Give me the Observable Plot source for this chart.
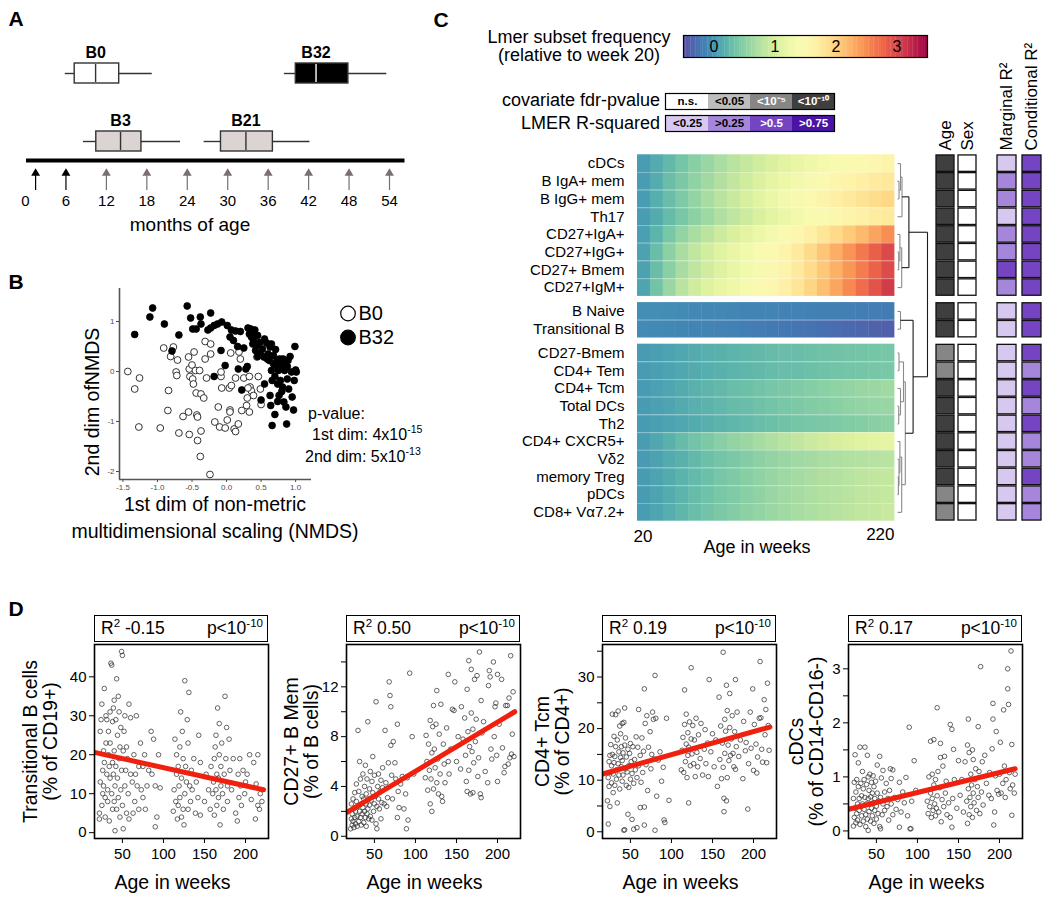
<!DOCTYPE html>
<html><head><meta charset="utf-8">
<script src="https://cdn.jsdelivr.net/npm/d3@7"></script>
<script src="https://cdn.jsdelivr.net/npm/@observablehq/plot@0.6"></script>
<style>
body{margin:0;background:#fff;}
#root{position:relative;width:1050px;height:900px;overflow:hidden;background:#fff;font-family:"Liberation Sans",Arial,Helvetica,sans-serif;}
sup{font-size:0.66em;line-height:0;vertical-align:0.6em;}
</style></head>
<body><div id="root"></div>
<script>
// ---------------- DATA ----------------
// Panel A: cohort sampling ages (months)
const cohortNames = ["B0", "B32", "B3", "B21"];
const cohortRow = ["upper", "upper", "lower", "lower"];
const cohortMin = [5.9, 38.4, 8.6, 26.5];
const cohortQ1 = [7.3, 40.1, 10.5, 29.0];
const cohortMedian = [10.4, 43.1, 14.1, 32.7];
const cohortQ3 = [13.9, 47.9, 17.2, 36.7];
const cohortMax = [18.8, 53.6, 23.0, 42.2];
const monthTicks = [0, 6, 12, 18, 24, 30, 36, 42, 48, 54];
const visitMonths = [1.5, 6, 12, 18, 24, 30, 36, 42, 48, 54];
const timelineMonths = [0.15, 56.3];

// Panel B: NMDS coordinates
const nmdsXTicks = [-1.5, -1, -0.5, 0, 0.5, 1];
const nmdsYTicks = [-2, -1, 0, 1];
const nmdsGroups = ["B0", "B32"];
const nmdsB0 = [[-1.43,0.00],[-1.33,-0.35],[-1.26,-0.13],[-1.27,-1.11],[-0.96,-1.13],[-0.91,0.47],[-0.85,-0.78],[-0.84,-0.38],[-0.81,0.30],[-0.77,0.49],[-0.73,-0.01],[-0.72,-0.08],[-0.71,0.23],[-0.69,-1.23],[-0.63,-0.90],[-0.55,-0.81],[-0.55,0.29],[-0.54,-1.26],[-0.54,0.05],[-0.53,-0.10],[-0.50,0.13],[-0.49,-0.15],[-0.48,-0.25],[-0.47,0.39],[-0.45,0.02],[-0.44,-0.43],[-0.43,-0.87],[-0.42,-0.91],[-0.42,-1.38],[-0.39,0.02],[-0.38,-1.70],[-0.37,-0.45],[-0.37,-1.19],[-0.33,-0.53],[-0.31,0.60],[-0.31,0.25],[-0.29,-0.13],[-0.23,0.35],[-0.23,0.55],[-0.24,-2.06],[-0.17,-1.01],[-0.12,-0.71],[-0.10,-1.11],[-0.08,-0.10],[-0.08,-0.01],[-0.07,-0.33],[-0.02,-1.13],[0.01,-0.97],[0.04,-0.33],[0.05,-0.77],[0.05,-0.81],[0.06,0.37],[0.07,-0.28],[0.11,-1.15],[0.13,-1.20],[0.17,-1.05],[0.18,0.39],[0.13,-0.13],[0.20,0.25],[0.22,-0.78],[0.25,-0.13],[0.29,-0.68],[0.30,-0.53],[0.33,-0.10],[0.33,-0.81],[0.34,-0.31],[0.36,-0.39],[0.39,-0.48],[0.46,-0.10],[0.49,-0.35],[0.50,-0.66],[0.44,0.29],[0.31,-0.33]];
const nmdsB32 = [[-1.33,0.74],[-1.11,1.09],[-1.07,1.27],[-0.90,0.95],[-0.79,0.41],[-0.69,0.73],[-0.57,1.31],[-0.52,1.07],[-0.49,0.85],[-0.44,0.85],[-0.38,1.09],[-0.37,0.95],[-0.23,1.17],[-0.27,0.83],[-0.23,0.87],[-0.18,0.92],[-0.13,0.95],[-0.07,0.99],[-0.18,-0.10],[-0.08,0.42],[-0.02,0.12],[0.01,0.92],[0.05,0.69],[0.07,0.83],[0.10,0.62],[0.13,0.81],[0.16,0.50],[0.17,0.05],[0.20,0.80],[0.22,-0.37],[0.25,0.47],[0.28,0.05],[0.31,0.87],[0.33,0.75],[0.36,0.69],[0.39,0.62],[0.41,0.83],[0.38,0.55],[0.42,0.42],[0.45,0.72],[0.46,0.54],[0.49,0.35],[0.50,-0.57],[0.54,0.29],[0.55,0.65],[0.58,0.57],[0.59,0.25],[0.62,0.22],[0.63,0.49],[0.63,-0.48],[0.64,-0.68],[0.65,0.02],[0.66,-1.08],[0.66,-0.18],[0.68,0.15],[0.70,-0.86],[0.71,0.44],[0.73,0.22],[0.74,-0.25],[0.75,0.02],[0.76,-0.48],[0.77,0.25],[0.78,-0.18],[0.80,0.12],[0.81,-0.31],[0.82,0.25],[0.83,-0.61],[0.84,0.02],[0.86,-0.71],[0.87,-1.05],[0.88,-0.15],[0.89,0.22],[0.92,0.30],[0.94,-0.01],[0.95,-0.51],[0.97,-0.77],[0.98,-0.18],[0.99,0.50],[1.00,0.03],[1.01,-0.01],[0.35,0.85],[0.40,0.72],[0.48,0.58],[0.52,0.45],[0.60,0.35],[0.68,0.32],[0.72,0.12],[0.78,0.05],[0.85,0.18],[0.70,-0.10],[0.80,-0.40],[0.90,-0.35],[0.74,-0.60],[0.30,0.10],[0.55,-0.25],[0.45,0.30],[0.65,0.55],[0.88,0.10]];

// Panel C: heatmap
const cellTypes = ["cDCs","B IgA+ mem","B IgG+ mem","Th17","CD27+IgA+","CD27+IgG+","CD27+ Bmem","CD27+IgM+","B Naive","Transitional B","CD27-Bmem","CD4+ Tem","CD4+ Tcm","Total DCs","Th2","CD4+ CXCR5+","Vδ2","memory Treg","pDCs","CD8+ Vα7.2+"];
const cellCluster = [0,0,0,0,0,0,0,0,1,1,2,2,2,2,2,2,2,2,2,2];
const weekEdges = [20,30,40,50,60,70,80,90,100,110,120,130,140,150,160,170,180,190,200,210,220];
const heatValues = [
 [0.04,0.14,0.26,0.38,0.50,0.60,0.70,0.80,0.88,0.96,1.04,1.12,1.20,1.27,1.34,1.40,1.46,1.51,1.56,1.60],
 [0.04,0.16,0.30,0.42,0.54,0.65,0.76,0.86,0.96,1.06,1.15,1.24,1.33,1.42,1.50,1.57,1.63,1.69,1.74,1.78],
 [0.04,0.17,0.31,0.44,0.57,0.69,0.80,0.91,1.02,1.12,1.22,1.32,1.42,1.52,1.61,1.69,1.77,1.84,1.90,1.95],
 [0.04,0.15,0.28,0.40,0.52,0.63,0.74,0.84,0.94,1.04,1.13,1.22,1.31,1.40,1.48,1.55,1.61,1.67,1.72,1.76],
 [0.06,0.22,0.40,0.56,0.70,0.82,0.94,1.04,1.14,1.24,1.34,1.45,1.56,1.68,1.80,1.93,2.06,2.20,2.35,2.50],
 [0.08,0.30,0.52,0.70,0.85,0.98,1.10,1.20,1.30,1.40,1.50,1.62,1.76,1.92,2.10,2.28,2.46,2.64,2.82,3.00],
 [0.08,0.30,0.51,0.69,0.84,0.97,1.09,1.19,1.29,1.39,1.49,1.61,1.75,1.91,2.08,2.26,2.44,2.62,2.80,2.98],
 [0.10,0.36,0.60,0.80,0.96,1.08,1.18,1.27,1.36,1.45,1.55,1.67,1.81,1.97,2.15,2.34,2.53,2.72,2.92,3.10],
 [-0.05,-0.06,-0.07,-0.08,-0.09,-0.10,-0.10,-0.11,-0.12,-0.12,-0.13,-0.14,-0.14,-0.15,-0.16,-0.16,-0.17,-0.18,-0.18,-0.19],
 [-0.08,-0.09,-0.10,-0.11,-0.12,-0.13,-0.14,-0.15,-0.17,-0.18,-0.20,-0.21,-0.23,-0.25,-0.27,-0.29,-0.31,-0.33,-0.36,-0.38],
 [0.03,0.06,0.09,0.12,0.15,0.18,0.20,0.22,0.24,0.26,0.28,0.30,0.31,0.33,0.34,0.35,0.36,0.37,0.38,0.39],
 [0.03,0.06,0.09,0.12,0.15,0.17,0.20,0.22,0.24,0.26,0.28,0.30,0.31,0.33,0.34,0.36,0.37,0.38,0.39,0.40],
 [0.03,0.07,0.11,0.15,0.19,0.23,0.26,0.30,0.33,0.36,0.39,0.42,0.45,0.48,0.51,0.54,0.57,0.60,0.62,0.65],
 [0.03,0.07,0.10,0.14,0.18,0.21,0.25,0.28,0.31,0.34,0.37,0.40,0.43,0.46,0.48,0.51,0.54,0.56,0.58,0.60],
 [0.03,0.06,0.09,0.12,0.15,0.18,0.21,0.24,0.27,0.30,0.33,0.35,0.38,0.40,0.42,0.44,0.46,0.48,0.50,0.52],
 [0.04,0.12,0.20,0.28,0.36,0.43,0.50,0.56,0.62,0.68,0.74,0.80,0.86,0.92,0.97,1.02,1.06,1.10,1.13,1.16],
 [0.03,0.08,0.14,0.20,0.26,0.32,0.37,0.42,0.47,0.52,0.56,0.60,0.64,0.67,0.70,0.73,0.75,0.77,0.79,0.80],
 [0.03,0.09,0.15,0.21,0.27,0.33,0.39,0.44,0.49,0.54,0.59,0.63,0.67,0.71,0.74,0.77,0.80,0.83,0.85,0.87],
 [0.03,0.09,0.16,0.22,0.28,0.34,0.40,0.45,0.50,0.55,0.60,0.64,0.68,0.72,0.75,0.78,0.81,0.84,0.86,0.88],
 [0.04,0.10,0.17,0.24,0.30,0.36,0.42,0.47,0.52,0.57,0.61,0.65,0.69,0.72,0.76,0.79,0.82,0.85,0.87,0.90]
];
const colorbarTicks = [0, 1, 2, 3];
// dendrogram: [height, left, right], leaves are row indices
const dendroTree = [1.0,
  [0.38, [0.15, [0.10, 0, [0.05, 1, 2]], 3], [0.14, [0.08, 4, [0.04, 5, 6]], 7]],
  [0.52, [0.10, 8, 9],
    [0.26, [0.20, [0.05, 10, 11], [0.10, 12, [0.04, 13, 14]]],
           [0.14, [0.08, 15, [0.05, 16, [0.03, 17, 18]]], 19]]]];
const fdrLevels = ["n.s.", "<0.05", "<10⁻⁵", "<10⁻¹⁰"];
const r2Levels = ["<0.25", ">0.25", ">0.5", ">0.75"];
const ageSig = ["<10⁻¹⁰","<10⁻¹⁰","<10⁻¹⁰","<10⁻¹⁰","<10⁻¹⁰","<10⁻¹⁰","<10⁻¹⁰","<10⁻¹⁰","<10⁻¹⁰","<10⁻¹⁰","<10⁻⁵","<10⁻⁵","<10⁻¹⁰","<10⁻¹⁰","<10⁻¹⁰","<10⁻¹⁰","<10⁻¹⁰","<10⁻¹⁰","<10⁻⁵","<10⁻⁵"];
const sexSig = ["n.s.","n.s.","n.s.","n.s.","n.s.","n.s.","n.s.","n.s.","n.s.","n.s.","n.s.","n.s.","n.s.","n.s.","n.s.","n.s.","n.s.","n.s.","n.s.","n.s."];
const marginalR2 = ["<0.25",">0.25",">0.25","<0.25",">0.25",">0.25",">0.5",">0.25","<0.25","<0.25","<0.25","<0.25","<0.25","<0.25","<0.25","<0.25","<0.25","<0.25","<0.25","<0.25"];
const conditionalR2 = [">0.5",">0.5",">0.5",">0.5",">0.5",">0.5",">0.5",">0.5",">0.5",">0.5",">0.5",">0.25",">0.5",">0.25",">0.5",">0.25",">0.25",">0.5",">0.25",">0.25"];

// Panel D: per-sample frequencies [age in weeks, value]
const weekTicks = [50, 100, 150, 200];
const r2Text = ["-0.15", "0.50", "0.19", "0.17"];
const transB = [[22,3.5],[22,5],[23,13],[23,26],[24,29],[25,33],[25,7],[26,10],[26,16],[27,12],[27,21],[28,37],[28,18],[29,4],[29,9],[30,23],[30,30],[31,15],[31,29],[32,8],[32,11],[33,20],[33,26],[34,17],[34,3],[35,31],[35,14],[35,23],[36,43.5],[37,43],[37,10],[38,6],[38,18],[38,28.5],[39,15],[39,32],[40,8],[40,21],[40,34],[41,0.5],[41,12],[42,29],[42,17],[43,39.5],[43,6],[44,25],[44,14],[45,35],[45,9],[46,19],[46,31],[47,4],[47,22],[48,11],[48,27],[49,16],[49,46.5],[50,45.5],[50,7],[51,1],[51,21],[52,26],[53,12],[53,30],[54,16],[55,5],[55,22],[56,19],[57,10],[58,33],[58,3.5],[60,15],[60,29.5],[62,13],[63,5],[64,20],[65,8],[66,15],[67,30],[68,12],[70,6],[70,17],[72,23],[73,11],[75,9],[75,17],[77,20],[78,6],[80,12],[82,16],[85,26],[86,15],[88,24],[90,1.5],[90,12],[92,4],[94,20],[96,11.5],[112,5.5],[113,11],[114,24],[115,8],[116,20],[116,15],[117,3.5],[118,17],[118,7],[119,12],[120,22],[120,9],[121,31],[122,4],[122,14],[123,26],[124,6],[124,19],[125,2],[126,10],[126,39],[127,17],[128,13],[129,29],[130,6],[130,23],[131,36],[132,12],[133,8],[134,16],[135,11],[137,19],[139,5],[140,13],[142,9],[143,25],[145,4.5],[145,18],[150,8],[152,15],[155,11],[157,6],[158,17],[160,10],[161,13],[162,4.5],[162,19],[163,22],[164,11],[164,25],[165,15],[165,7],[166,32],[167,14],[167,9],[168,20],[168,28],[169,2],[170,12],[170,17],[171,23],[172,10],[173,6],[174,15],[175,35],[176,19],[177,27],[178,12],[178,8],[180,24],[181,16],[183,11],[185,19],[188,5],[190,3],[191,15],[192,9],[193,19],[194,12],[195,7],[197,16],[199,10],[200,13],[202,15],[205,20],[207,8.5],[210,18],[212,3.5],[213,12.5],[215,7],[215,20],[217,6],[218,10],[220,8]];
const cd27Mem = [[21,0.6],[22,1.4],[22,2.6],[23,0.9],[23,1.8],[24,3.0],[24,1.2],[25,2.2],[25,0.7],[26,1.5],[26,3.5],[27,2.0],[27,1.0],[28,2.8],[28,4.2],[29,1.6],[29,0.8],[30,2.4],[30,8.5],[31,1.2],[31,3.6],[32,6.0],[32,2.0],[33,1.5],[33,4.6],[34,2.6],[34,0.9],[35,3.2],[35,1.8],[36,5.0],[36,2.3],[37,1.1],[37,3.0],[38,4.0],[38,2.0],[39,1.5],[39,5.7],[40,2.6],[40,3.4],[40,0.8],[41,1.8],[41,4.6],[42,2.2],[42,9.2],[43,3.0],[43,1.4],[44,3.8],[44,2.5],[45,5.2],[45,1.6],[46,2.9],[47,4.4],[47,1.3],[48,3.5],[48,6.4],[49,2.0],[50,2.6],[50,4.9],[51,3.2],[52,1.0],[52,10.8],[53,0.6],[53,2.4],[54,4.0],[55,3.0],[55,5.0],[56,2.2],[57,3.6],[58,1.4],[58,4.5],[59,2.7],[60,3.9],[60,5.5],[62,2.6],[63,8.5],[64,4.3],[65,2.4],[66,3.1],[67,5.9],[68,12.4],[69,11.3],[70,10.4],[70,7.3],[71,4.9],[72,3.0],[73,7.6],[75,5.9],[76,4.6],[78,9.0],[78,1.5],[79,3.6],[80,2.3],[82,4.2],[84,4.8],[86,2.2],[88,3.4],[89,0.6],[90,4.7],[91,1.3],[93,13.1],[96,8.0],[98,5.0],[112,4.7],[113,8.1],[114,6.0],[115,3.7],[116,7.4],[117,5.3],[118,9.3],[118,2.6],[119,4.6],[120,6.7],[120,2.0],[121,8.8],[122,3.8],[122,10.5],[123,7.0],[124,5.5],[125,9.0],[126,11.7],[126,4.3],[127,6.2],[128,3.4],[129,8.2],[130,5.0],[131,10.6],[132,3.2],[133,2.8],[134,7.4],[135,5.8],[136,4.3],[138,8.7],[140,13.0],[140,6.0],[141,5.0],[143,7.0],[145,10.2],[147,10.1],[148,12.4],[150,6.0],[152,8.0],[155,5.4],[156,10.4],[158,7.8],[160,9.5],[161,6.5],[162,4.4],[163,11.8],[163,3.6],[164,8.4],[165,14.1],[165,5.3],[166,7.2],[167,3.4],[168,9.9],[168,13.4],[169,6.8],[170,3.5],[170,8.6],[171,5.9],[172,12.6],[173,7.6],[174,9.4],[175,12.9],[176,4.8],[177,6.3],[178,14.8],[179,3.4],[180,10.9],[180,3.1],[181,8.3],[183,9.2],[185,5.2],[188,4.3],[189,12.1],[190,13.3],[191,12.8],[192,7.0],[193,6.2],[195,14.0],[196,8.0],[197,10.4],[198,10.7],[199,6.5],[200,13.0],[200,4.4],[202,9.0],[205,12.6],[206,7.1],[208,5.1],[209,5.6],[210,10.5],[212,10.5],[213,5.8],[214,11.1],[215,6.3],[216,14.5],[217,6.6],[218,8.2],[219,11.6],[220,6.4]];
const cd4Tcm = [[22,6.0],[23,1.5],[23,10.5],[24,13.6],[24,8.8],[25,4.9],[25,14.8],[26,11.5],[26,16.9],[27,9.5],[27,12.8],[28,15.0],[28,22.8],[29,7.6],[29,11.2],[30,18.5],[30,13.4],[31,9.0],[31,14.6],[32,22.7],[32,16.5],[33,12.0],[33,10.2],[34,17.8],[34,5.6],[35,13.2],[35,23.4],[36,15.5],[36,11.0],[37,20.5],[37,8.3],[38,19.0],[38,14.4],[39,12.6],[39,16.5],[40,21.0],[40,9.8],[40,13.8],[41,15.3],[41,11.0],[42,0.3],[42,21.2],[43,24.0],[43,0.4],[43,16.8],[44,12.2],[44,18.2],[45,9.0],[45,14.5],[46,11.6],[47,3.4],[47,16.0],[48,12.8],[48,8.6],[49,15.2],[50,10.2],[50,17.1],[51,13.6],[52,2.4],[52,11.3],[53,16.5],[54,0.5],[54,9.4],[55,14.0],[56,12.0],[57,18.4],[58,0.8],[58,10.5],[59,16.4],[60,23.7],[60,12.8],[62,4.7],[62,14.8],[63,9.6],[64,18.2],[65,11.5],[66,15.6],[67,27.7],[67,4.8],[67,1.3],[68,21.0],[69,13.0],[70,22.5],[71,8.0],[72,16.4],[74,19.4],[75,12.2],[76,15.0],[77,23.2],[78,21.8],[79,14.1],[80,30.3],[80,0.3],[81,22.0],[82,6.9],[84,13.9],[86,15.5],[88,9.8],[90,12.5],[91,2.3],[92,1.8],[94,22.0],[97,6.1],[112,12.0],[113,15.8],[114,18.3],[115,11.5],[116,27.5],[116,20.8],[117,13.6],[118,17.0],[118,22.8],[119,10.5],[120,14.8],[120,19.2],[121,5.6],[121,16.4],[122,21.3],[123,12.8],[124,31.8],[124,18.0],[125,15.1],[126,20.6],[127,13.2],[128,17.8],[129,10.7],[130,22.0],[131,15.4],[132,12.6],[133,18.8],[135,14.2],[136,21.0],[138,11.0],[140,16.0],[141,19.8],[142,13.2],[144,17.2],[145,10.7],[146,29.5],[148,15.5],[150,19.0],[152,12.6],[154,17.8],[156,8.8],[158,26.1],[159,14.0],[160,20.5],[161,10.3],[162,17.2],[163,34.8],[163,12.5],[164,3.9],[164,6.5],[165,21.8],[165,15.2],[166,19.5],[167,28.4],[167,6.0],[168,10.5],[168,23.5],[169,16.8],[170,13.8],[171,26.8],[171,20.2],[172,14.8],[173,18.0],[174,22.5],[175,15.2],[176,12.6],[177,19.4],[178,29.5],[178,12.1],[179,16.5],[180,23.2],[182,14.6],[184,17.8],[187,10.3],[188,21.4],[190,15.7],[191,17.3],[193,4.4],[194,13.2],[196,23.2],[197,16.2],[199,27.7],[200,11.9],[201,20.8],[203,17.0],[204,11.4],[205,14.5],[207,22.0],[208,33.0],[209,22.1],[210,16.0],[211,13.5],[213,25.6],[214,18.8],[215,23.7],[216,13.4],[217,28.8],[218,20.6],[219,15.8]];
const cdcs = [[22,0.09],[22,0.6],[23,0.25],[23,0.9],[24,1.41],[24,0.42],[25,0.15],[25,0.72],[26,0.32],[26,0.95],[27,0.5],[27,0.2],[28,0.82],[28,1.26],[29,0.38],[29,0.6],[30,0.12],[30,1.55],[31,0.45],[31,0.88],[32,0.28],[32,0.65],[33,1.1],[33,0.5],[34,0.18],[34,0.78],[35,0.4],[35,0.95],[36,0.62],[36,1.55],[37,0.3],[37,0.08],[38,0.5],[38,0.86],[39,1.4],[39,0.22],[40,0.6],[40,0.01],[40,1.0],[41,0.36],[41,0.75],[42,0.5],[42,1.05],[43,0.18],[43,0.63],[44,0.9],[44,0.42],[45,0.28],[45,0.7],[46,0.52],[46,1.02],[47,0.14],[47,0.82],[48,0.38],[48,0.6],[49,0.92],[50,0.46],[50,0.22],[51,1.22],[51,0.7],[52,0.32],[53,0.55],[54,1.38],[54,0.08],[55,0.04],[55,0.62],[56,0.98],[57,0.3],[58,1.12],[58,0.5],[60,0.72],[60,0.38],[62,0.88],[63,0.45],[64,0.6],[65,0.2],[66,0.75],[67,1.15],[68,0.97],[68,0.5],[70,1.13],[70,0.3],[72,0.62],[74,0.4],[76,0.58],[78,0.07],[78,0.9],[80,0.35],[82,0.72],[84,0.52],[86,0.99],[88,0.28],[90,1.92],[91,0.04],[92,0.04],[93,0.55],[96,1.3],[98,0.75],[112,0.55],[113,0.32],[114,1.0],[115,0.45],[116,1.66],[116,0.7],[117,0.25],[118,0.6],[118,1.05],[119,0.38],[120,1.69],[120,0.85],[121,0.5],[122,0.28],[122,0.95],[123,0.42],[124,2.28],[124,0.65],[125,1.1],[126,0.35],[127,0.8],[128,1.62],[128,1.36],[129,0.17],[130,0.58],[131,1.2],[132,0.45],[133,1.38],[134,0.7],[135,0.92],[136,0.3],[138,0.52],[140,1.97],[140,0.25],[142,1.88],[142,0.07],[143,0.6],[144,1.51],[145,0.95],[148,0.42],[150,1.3],[152,0.66],[154,0.95],[156,0.35],[158,1.28],[160,0.55],[161,1.59],[161,0.14],[162,2.07],[162,0.78],[163,1.45],[163,0.3],[164,0.62],[165,1.05],[165,0.45],[166,0.85],[167,1.5],[167,0.25],[168,0.7],[168,1.32],[169,0.52],[170,0.95],[171,1.15],[172,0.38],[173,0.82],[174,1.93],[174,0.62],[175,1.1],[176,0.32],[177,3.04],[178,0.72],[179,1.28],[180,0.48],[182,1.4],[184,0.88],[187,0.66],[188,1.08],[190,0.6],[191,1.52],[192,2.36],[192,2.07],[193,0.11],[194,0.35],[195,1.02],[196,1.84],[197,0.75],[199,0.68],[200,1.05],[201,1.64],[202,0.7],[204,0.88],[205,2.24],[206,1.2],[207,0.62],[208,0.95],[210,3.0],[210,2.63],[211,2.34],[212,1.08],[213,0.78],[214,3.33],[215,1.6],[215,0.29],[216,0.85],[218,0.7],[219,1.05]];
const transBFit = [[16, 20.6], [222, 11.0]];
const cd27MemFit = [[16, 1.9], [221, 10.0]];
const cd4TcmFit = [[16, 11.2], [220, 20.3]];
const cdcsFit = [[16, 0.40], [219, 1.15]];

// ---------------- RENDER ----------------
const FONT = '"Liberation Sans", Arial, Helvetica, sans-serif';
const root = document.getElementById("root");
const baseStyle = {fontFamily: FONT, fontSize: "15px", background: "transparent", overflow: "visible", color: "#000"};
function put(node, left, top) {
  node.style.position = "absolute"; node.style.left = left + "px"; node.style.top = top + "px";
  root.appendChild(node); return node;
}
function label(html, x, y, {size = 16, bold = false, anchor = "middle", rotate = 0, lh = 1.15} = {}) {
  const d = document.createElement("div");
  d.innerHTML = html;
  const tx = anchor === "start" ? "0" : anchor === "end" ? "-100%" : "-50%";
  d.style.cssText = `position:absolute;left:${x}px;top:${y}px;white-space:nowrap;font-family:${FONT};font-size:${size}px;font-weight:${bold ? "bold" : "normal"};line-height:${lh};text-align:${anchor === "start" ? "left" : anchor === "end" ? "right" : "center"};transform:translate(${tx},-50%)${rotate ? ` rotate(${rotate}deg)` : ""};`;
  root.appendChild(d); return d;
}

// ---- Panel A ----
label("A", 16, 19, {size: 21, bold: true});
const cohorts = cohortNames.map((name, i) => ({name, row: cohortRow[i], lo: cohortMin[i], q1: cohortQ1[i], med: cohortMedian[i], q3: cohortQ3[i], hi: cohortMax[i]}));
const cohortFill = {B0: "#ffffff", B32: "#000000", B3: "#dcd3d3", B21: "#dcd3d3"};
put(Plot.plot({
  width: 420, height: 170, margin: 0, style: baseStyle,
  x: {domain: [0, 54], range: [25, 389], axis: null},
  y: {type: "band", domain: ["upper", "lower"], range: [62, 151], paddingInner: 0.71, paddingOuter: 0, axis: null},
  color: {type: "identity"},
  marks: [
    Plot.ruleY(cohorts, {y: "row", x1: "lo", x2: "q1", stroke: "#333", strokeWidth: 1.4}),
    Plot.ruleY(cohorts, {y: "row", x1: "q3", x2: "hi", stroke: "#333", strokeWidth: 1.4}),
    Plot.barX(cohorts, {y: "row", x1: "q1", x2: "q3", fill: d => cohortFill[d.name], stroke: "#333", strokeWidth: 1.4}),
    Plot.tickX(cohorts, {y: "row", x: "med", stroke: d => d.name === "B32" ? "#ffffff" : "#333333", strokeWidth: 1.4, insetTop: 1, insetBottom: 1}),
    Plot.text(cohorts, {y: "row", x: "med", text: "name", dy: -21, fontSize: 16, fontWeight: "bold"})
  ]
}), 0, 0);
put(Plot.plot({
  width: 420, height: 90, marginTop: 0, marginBottom: 50, marginLeft: 0, marginRight: 0, style: baseStyle,
  x: {domain: [0, 54], range: [25, 389], ticks: monthTicks, tickSize: 0, tickPadding: 5, label: null, tickFormat: d => String(d)},
  y: {domain: [0, 1.5], range: [40, 10], axis: null},
  color: {type: "identity"},
  marks: [
    Plot.ruleY([1.5], {x1: timelineMonths[0], x2: timelineMonths[1], stroke: "#000", strokeWidth: 4}),
    Plot.ruleX(visitMonths, {x: d => d, y1: 0, y2: 0.8, stroke: (d, i) => i < 2 ? "#000000" : "#7a6f6f", strokeWidth: 1.2}),
    Plot.dot(visitMonths, {x: d => d, y: 0.86, symbol: "triangle", r: 3.3, fill: (d, i) => i < 2 ? "#000000" : "#7a6f6f"})
  ]
}), 0, 150);
label("months of age", 190, 225, {size: 19});

// ---- Panel B ----
label("B", 16, 282, {size: 21, bold: true});
put(Plot.plot({
  width: 227, height: 215, marginLeft: 30, marginRight: 5, marginTop: 8, marginBottom: 16,
  style: {...baseStyle, fontSize: "8px", color: "#4d4d4d"},
  x: {domain: [-1.55, 1.23], ticks: nmdsXTicks, tickFormat: d => d.toFixed(1), tickSize: 3, tickPadding: 2, label: null},
  y: {domain: [-2.16, 1.66], ticks: nmdsYTicks, tickFormat: d => String(d), tickSize: 3, tickPadding: 2, label: null},
  marks: [
    Plot.ruleX([-1.55], {stroke: "#555", strokeWidth: 1.6}),
    Plot.ruleY([-2.16], {stroke: "#555", strokeWidth: 1.6}),
    Plot.dot(nmdsB0, {x: d => d[0], y: d => d[1], r: 3.4, fill: "#fff", stroke: "#333", strokeWidth: 1}),
    Plot.dot(nmdsB32, {x: d => d[0], y: d => d[1], r: 3.4, fill: "#000", stroke: "#000", strokeWidth: 0.8})
  ]
}), 89, 280);
put(Plot.plot({
  width: 80, height: 56, marginLeft: 17.5, marginRight: 0, marginTop: 0, marginBottom: 0,
  style: {...baseStyle, fontSize: "20px"},
  y: {type: "band", domain: nmdsGroups, range: [3, 52], padding: 0, axis: null},
  color: {type: "identity"},
  marks: [
    Plot.dot(nmdsGroups, {y: d => d, frameAnchor: "left", r: 7.3, fill: d => d === "B0" ? "#ffffff" : "#000000", stroke: "#000", strokeWidth: 1.2}),
    Plot.text(nmdsGroups, {y: d => d, text: d => d, frameAnchor: "left", dx: 10.5, textAnchor: "start", fontSize: 20})
  ]
}), 330, 297);
label("2nd dim ofNMDS", 92, 402, {size: 19.5, rotate: -90});
label("1st dim of non-metric", 215, 505, {size: 19.5, lh: 1});
label("multidimensional scaling (NMDS)", 215, 532, {size: 19.5, lh: 1});
label("p-value:", 308, 414, {size: 16, anchor: "start"});
label("1st dim: 4x10<sup>-15</sup>", 312, 435, {size: 16, anchor: "start"});
label("2nd dim: 5x10<sup>-13</sup>", 305, 457, {size: 16, anchor: "start"});

// ---- Panel C ----
label("C", 441, 20, {size: 21, bold: true});
const heatColor = {type: "linear", scheme: "spectral", reverse: true, domain: [-0.5, 3.5]};
label("Lmer subset frequency", 579, 36.5, {size: 18, lh: 1});
label("(relative to week 20)", 579, 55, {size: 18, lh: 1});
const rampStep = 0.04;
const ramp = d3.range(-0.5, 3.5, rampStep);
put(Plot.plot({
  width: 244, height: 22, margin: 0, style: {...baseStyle, fontSize: "16px"},
  x: {domain: [-0.5, 3.5], axis: null}, y: {domain: [0, 1], axis: null},
  color: heatColor,
  marks: [
    Plot.rect(ramp, {x1: d => d, x2: d => d + rampStep + 0.005, y1: 0, y2: 1, fill: d => d + rampStep / 2}),
    Plot.frame({stroke: "#000", strokeWidth: 1.2}),
    Plot.text(colorbarTicks, {x: d => d, y: 0.5, text: d => String(d), fontSize: 16})
  ]
}), 683, 35);

const fdrColors = ["#ffffff", "#bdbdbd", "#868686", "#3f3f3f"];
const r2Colors = ["#d6c8ee", "#a686da", "#7444c3", "#4c14a6"];
function levelLegend(levels, colors, left, top) {
  put(Plot.plot({
    width: 169, height: 16, margin: 0, style: {...baseStyle, fontSize: "11.5px"},
    x: {type: "band", domain: levels, padding: 0, axis: null},
    color: {domain: levels, range: colors},
    marks: [
      Plot.cell(levels, {x: d => d, fill: d => d}),
      Plot.frame({stroke: "#000", strokeWidth: 1.2}),
      Plot.text(levels.slice(0, 2), {x: d => d, text: d => d, fill: "#000", fontWeight: "bold", fontSize: 11.5}),
      Plot.text(levels.slice(2), {x: d => d, text: d => d, fill: "#fff", fontWeight: "bold", fontSize: 11.5})
    ]
  }), left, top);
}
label("covariate fdr-pvalue", 660, 100, {size: 18, anchor: "end", lh: 1});
label("LMER R-squared", 660, 123, {size: 18, anchor: "end", lh: 1});
levelLegend(fdrLevels, fdrColors, 665, 93);
levelLegend(r2Levels, r2Colors, 665, 115);

const GAP = 0.35;
const TOTAL = cellTypes.length + 2 * GAP;
const slotTop = i => i + cellCluster[i] * GAP;
const yRange = top => [154.3 - top, 520.7 - top];

const heatCells = [];
heatValues.forEach((vals, r) => vals.forEach((v, j) => heatCells.push({r, x1: weekEdges[j], x2: weekEdges[j + 1], v})));
const rowRows = cellTypes.map((name, i) => ({name, i}));
const innerRows = rowRows.filter(d => d.i > 0 && cellCluster[d.i] === cellCluster[d.i - 1]);
put(Plot.plot({
  width: 500, height: 420, marginLeft: 237, marginRight: 6, marginTop: 0, marginBottom: 0,
  style: baseStyle,
  x: {domain: [weekEdges[0], weekEdges[weekEdges.length - 1]], range: [237, 494], axis: null},
  y: {domain: [0, TOTAL], range: yRange(140), axis: null},
  color: heatColor,
  marks: [
    Plot.rect(heatCells, {x1: "x1", x2: d => d.x2 + 0.3, y1: d => slotTop(d.r), y2: d => slotTop(d.r) + 1, fill: "v"}),
    Plot.ruleY(innerRows, {y: d => slotTop(d.i), x1: weekEdges[0], x2: weekEdges[weekEdges.length - 1], stroke: "#fff", strokeOpacity: 0.3, strokeWidth: 1}),
    Plot.text(rowRows, {x: weekEdges[0], y: d => slotTop(d.i) + 0.5, text: "name", textAnchor: "end", dx: -13, fontSize: 15}),
    Plot.text([weekEdges[0]], {x: d => d, y: TOTAL, text: d => String(d), textAnchor: "start", dx: -4, dy: 15, fontSize: 17}),
    Plot.text([weekEdges[weekEdges.length - 1]], {x: d => d, y: TOTAL, text: d => String(d), textAnchor: "end", dy: 13, fontSize: 17})
  ]
}), 400, 140);
label("Age in weeks", 757, 547, {size: 18, lh: 1});

// dendrogram
const dendroSegs = [];
function layoutTree(node) {
  if (typeof node === "number") return {h: 0, y: slotTop(node) + 0.5};
  const [h, a, b] = node;
  const A = layoutTree(a), B = layoutTree(b);
  dendroSegs.push({x1: h, x2: h, y1: A.y, y2: B.y, h});
  dendroSegs.push({x1: A.h, x2: h, y1: A.y, y2: A.y, h});
  dendroSegs.push({x1: B.h, x2: h, y1: B.y, y2: B.y, h});
  return {h, y: (A.y + B.y) / 2};
}
layoutTree(dendroTree);
put(Plot.plot({
  width: 45, height: 420, margin: 0, style: baseStyle,
  x: {domain: [0, 1], range: [7, 37], axis: null},
  y: {domain: [0, TOTAL], range: yRange(140), axis: null},
  color: {type: "identity"},
  marks: [
    Plot.link(dendroSegs, {x1: "x1", x2: "x2", y1: "y1", y2: "y2", stroke: d => d.h >= 0.3 ? "#1a1a1a" : "#8a8a8a", strokeWidth: 1.1})
  ]
}), 890, 140);

// side annotation columns
const sideAgeSex = cellTypes.flatMap((name, i) => [{col: "Age", level: ageSig[i], i}, {col: "Sex", level: sexSig[i], i}]);
const sideR2 = cellTypes.flatMap((name, i) => [{col: "Marginal R²", level: marginalR2[i], i}, {col: "Conditional R²", level: conditionalR2[i], i}]);
function sidePlot(data, cols, levels, colors, xRange, pad, left, width) {
  put(Plot.plot({
    width, height: 530, marginTop: 154, marginBottom: 9, marginLeft: 0, marginRight: 0,
    style: {...baseStyle, fontSize: "17px"},
    x: {type: "band", domain: cols, range: xRange, paddingInner: pad, paddingOuter: 0, axis: "top", tickRotate: -90, tickSize: 0, tickPadding: 4, label: null},
    y: {domain: [0, TOTAL], range: yRange(0), axis: null},
    color: {domain: levels, range: colors},
    marks: [
      Plot.barY(data, {x: "col", y1: d => slotTop(d.i), y2: d => slotTop(d.i) + 1, fill: "level", stroke: "#111", strokeWidth: 1.3, insetTop: 0.65, insetBottom: 0.65})
    ]
  }), left, 0);
}
sidePlot(sideAgeSex, ["Age", "Sex"], fdrLevels, fdrColors, [5.7, 47.3], 0.17, 930, 52);
sidePlot(sideR2, ["Marginal R²", "Conditional R²"], r2Levels, r2Colors, [6, 50.7], 0.26, 990, 56);

// ---- Panel D ----
label("D", 16, 609, {size: 21, bold: true});
const panelsD = [
  {pts: transB, fit: transBFit, frameLeft: 94, yDomain: [-1.5, 48.3], yTicks: [0, 10, 20, 30, 40], fmt: d => String(d), title: "Transitional B cells\n(% of CD19+)", dx: -54},
  {pts: cd27Mem, fit: cd27MemFit, frameLeft: 346, yDomain: [-0.18, 15.4], yTicks: [0, 2, 4, 6, 8, 10, 12, 14], fmt: d => d % 4 === 0 ? String(d) : "", title: "CD27+ B Mem\n(% of B cells)", dx: -45},
  {pts: cd4Tcm, fit: cd4TcmFit, frameLeft: 602, yDomain: [-1.3, 36.3], yTicks: [0, 5, 10, 15, 20, 25, 30, 35], fmt: d => d % 10 === 0 ? String(d) : "", title: "CD4+ Tcm\n(% of CD4+)", dx: -50},
  {pts: cdcs, fit: cdcsFit, frameLeft: 848, yDomain: [-0.14, 3.45], yTicks: [0, 0.5, 1, 1.5, 2, 2.5, 3], fmt: d => Number.isInteger(d) ? String(d) : "", title: "cDCs\n(% of CD14-CD16-)", dx: -42}
];
panelsD.forEach((p, k) => {
  put(Plot.plot({
    width: 240, height: 290, marginLeft: 60, marginRight: 6, marginTop: 44, marginBottom: 52,
    style: {...baseStyle, fontSize: "15px"},
    x: {domain: [16, 228], ticks: weekTicks, tickSize: 5, tickPadding: 5, label: null, tickFormat: d => String(d)},
    y: {domain: p.yDomain, ticks: p.yTicks, tickFormat: p.fmt, tickSize: 5, tickPadding: 3, label: null},
    marks: [
      Plot.dot(p.pts, {x: d => d[0], y: d => d[1], r: 2.3, stroke: "#333", strokeWidth: 0.75, fill: "none"}),
      Plot.line(p.fit, {x: d => d[0], y: d => d[1], stroke: "#f0200f", strokeWidth: 5, clip: true}),
      Plot.frame({stroke: "#000", strokeWidth: 1.6}),
      Plot.text([p.title], {text: d => d, frameAnchor: "left", rotate: -90, textAnchor: "middle", lineAnchor: "middle", dx: p.dx, fontSize: 19.5, lineHeight: 1.05}),
      Plot.text(["Age in weeks"], {text: d => d, frameAnchor: "bottom", textAnchor: "middle", lineAnchor: "middle", dx: -9, dy: 44, fontSize: 19.5})
    ]
  }), p.frameLeft - 60, 600);
  const h = document.createElement("div");
  h.style.cssText = `position:absolute;left:${p.frameLeft}px;top:615px;width:174px;height:27px;box-sizing:border-box;border:1.6px solid #000;font-family:${FONT};font-size:17.5px;display:flex;justify-content:space-between;align-items:center;padding:0 4px 0 6px;white-space:nowrap;`;
  h.innerHTML = `<span>R<sup>2</sup> ${r2Text[k]}</span><span>p&lt;10<sup>-10</sup></span>`;
  root.appendChild(h);
});
</script>
</body></html>
